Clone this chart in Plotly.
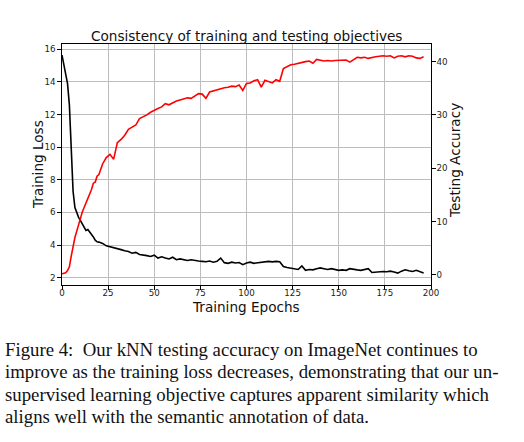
import plotly.graph_objects as go

# epochs sampled from the figure (1-epoch steps early on, 2-epoch steps later)
epochs = list(range(0, 21)) + list(range(22, 197, 2))

train_loss = [15.65, 15.1, 14.6, 13.9, 12.6, 10.0, 7.3, 6.3, 5.95, 5.7,
              5.5, 5.3, 5.05, 4.9, 4.95, 4.82, 4.7, 4.5, 4.3, 4.2, 4.18,
              4.1, 3.95, 3.9, 3.85, 3.8, 3.72, 3.65, 3.6, 3.5, 3.55,
              3.42, 3.4, 3.35, 3.3, 3.38, 3.2, 3.28, 3.2, 3.15, 3.25,
              3.1, 3.15, 3.12, 3.05, 3.1, 3.05, 3.02, 3.0, 2.98, 3.02,
              2.95, 3.0, 3.2, 2.92, 2.88, 2.95, 2.9, 2.93, 2.8, 2.9,
              2.95, 2.88, 2.9, 2.94, 2.95, 3.0, 2.97, 3.0, 2.98, 2.68,
              2.62, 2.58, 2.55, 2.5, 2.72, 2.45, 2.5, 2.48, 2.55, 2.6,
              2.55, 2.5, 2.55, 2.52, 2.45, 2.48, 2.45, 2.55, 2.5, 2.48,
              2.45, 2.5, 2.55, 2.32, 2.35, 2.35, 2.38, 2.36, 2.4, 2.35,
              2.28, 2.4, 2.48, 2.42, 2.38, 2.45, 2.38, 2.28]

test_acc = [0.2, 0.3, 0.4, 0.8, 1.5, 3.5, 5.5, 7.0, 8.2, 9.6,
            10.6, 11.8, 12.6, 13.5, 14.2, 15.3, 16.0, 17.2, 17.4, 18.5, 18.8,
            20.8, 22.0, 22.6, 21.7, 24.8, 25.4, 26.2, 27.3, 27.7, 28.1,
            29.3, 29.6, 30.0, 30.5, 30.9, 31.2, 31.5, 32.1, 31.9, 32.3,
            32.6, 32.8, 33.0, 33.2, 33.1, 33.5, 34.0, 33.9, 33.1, 34.3,
            34.5, 34.8, 35.0, 35.1, 35.2, 35.4, 35.3, 35.6, 34.6, 35.9,
            36.0, 36.4, 36.6, 35.2, 36.5, 36.2, 36.0, 36.6, 36.3, 38.7,
            39.1, 39.4, 39.5, 39.7, 39.9, 40.0, 40.1, 39.7, 40.4, 40.2,
            40.1, 40.2, 40.1, 40.2, 40.2, 40.3, 40.3, 39.9, 40.4, 40.8,
            40.7, 40.8, 40.6, 40.8, 40.9, 41.0, 41.1, 41.0, 41.1, 40.7,
            41.0, 41.1, 40.9, 41.1, 41.0, 40.7, 40.6, 40.9]

caption_lines = [
    "Figure 4:  Our kNN testing accuracy on ImageNet continues to",
    "improve as the training loss decreases, demonstrating that our un-",
    "supervised learning objective captures apparent similarity which",
    "aligns well with the semantic annotation of data.",
]

W, H = 524, 442
sans = "DejaVu Sans"
serif = "Liberation Serif"

fig = go.Figure()
fig.add_trace(go.Scatter(x=epochs, y=train_loss, mode="lines",
                         line=dict(color="black", width=1.6), yaxis="y"))
fig.add_trace(go.Scatter(x=epochs, y=test_acc, mode="lines",
                         line=dict(color="red", width=1.6), yaxis="y2"))

axis_common = dict(showline=True, linecolor="black", linewidth=1.4,
                   ticks="outside", ticklen=3.5, tickwidth=1, tickcolor="black",
                   tickfont=dict(family=sans, size=8.7, color="#222"),
                   zeroline=False, automargin=False)

fig.update_layout(
    width=W, height=H,
    margin=dict(l=0, r=0, t=0, b=0),
    paper_bgcolor="white", plot_bgcolor="white",
    showlegend=False,
    xaxis=dict(domain=[62 / W, 431 / W], range=[0, 200], tick0=0, dtick=25,
               showgrid=True, gridcolor="#bdbdbd", gridwidth=1, mirror=True,
               ticklabelstandoff=-4, **axis_common),
    yaxis=dict(domain=[1 - 285 / H, 1 - 44 / H], range=[1.55, 16.33],
               tick0=2, dtick=2, showgrid=True, gridcolor="#bdbdbd",
               gridwidth=1, mirror=True, **axis_common),
    yaxis2=dict(overlaying="y", side="right", range=[-1.9, 43.3], tick0=0,
                dtick=10, showgrid=False, anchor="x", ticklabelstandoff=-1,
                **axis_common),
)

anns = [
    dict(text="Consistency of training and testing objectives", x=246, y=36,
         angle=0),
    dict(text="Training Loss", x=38, y=165, angle=-90),
    dict(text="Testing Accuracy", x=455, y=161, angle=-90),
    dict(text="Training Epochs", x=246, y=306.5, angle=0),
]
for a in anns:
    fig.add_annotation(text=a["text"], xref="paper", yref="paper",
                       x=a["x"] / W, y=1 - a["y"] / H, showarrow=False,
                       xanchor="center", yanchor="middle", textangle=a["angle"],
                       font=dict(family=sans, size=13.6, color="#111"))

for i, line in enumerate(caption_lines):
    fig.add_annotation(text=line, xref="paper", yref="paper",
                       x=3 / W, y=1 - (349 + 22.6 * i) / H, showarrow=False,
                       xanchor="left", yanchor="middle",
                       font=dict(family=serif, size=18.8, color="#111"))

fig.write_html("out.html", config={"displayModeBar": False},
               post_script="document.body.style.margin='0';")
